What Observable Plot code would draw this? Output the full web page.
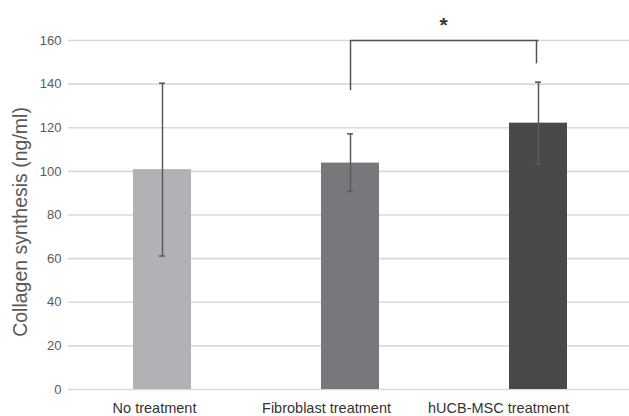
<!DOCTYPE html>
<html>
<head>
<meta charset="utf-8">
<script src="https://cdn.jsdelivr.net/npm/d3@7"></script>
<script src="https://cdn.jsdelivr.net/npm/@observablehq/plot@0.6"></script>
<style>
  html, body { margin: 0; padding: 0; background: #fff; }
  #chart { width: 629px; height: 416px; }
</style>
</head>
<body>
<div id="chart"></div>
<script>
// Data
const categories = ["No treatment", "Fibroblast treatment", "hUCB-MSC treatment"];
const means = [100.8, 103.8, 122.1];
const errLow = [61.2, 90.8, 103.3];
const errHigh = [140.4, 117.2, 140.9];
const barColors = ["#b1b2b6", "#77787c", "#48494b"];
const yTicks = [0, 20, 40, 60, 80, 100, 120, 140, 160];
// Significance bracket: between categories 2 and 3
const bracketFrom = "Fibroblast treatment";
const bracketTo = "hUCB-MSC treatment";
const bracketTop = 160;
const bracketLeftEnd = 137;
const bracketRightEnd = 149.3;
const sigLabel = "*";
const yTitle = "Collagen synthesis (ng/ml)";

const data = categories.map((c, i) => ({
  category: c, mean: means[i], lo: errLow[i], hi: errHigh[i], color: barColors[i]
}));

const labelShift = [-8, -24, -40];

const font = "Liberation Sans, Arial, Helvetica, sans-serif";

const chart = Plot.plot({
  width: 629,
  height: 416,
  marginTop: 40,
  marginBottom: 27,
  marginLeft: 68,
  marginRight: 0,
  style: { fontFamily: font, background: "#fff", overflow: "visible" },
  x: { domain: categories, range: [68, 632], paddingInner: 0.69, paddingOuter: 0.345, axis: null },
  y: { domain: [0, 160], axis: null },
  marks: [
    Plot.ruleY(yTicks, { stroke: "#d9d9d9", strokeWidth: 1.6 }),
    Plot.text(yTicks, { y: d => d, text: d => String(d), frameAnchor: "left", dx: -7, textAnchor: "end", fontSize: 13, fill: "#595959" }),
    Plot.barY(data, { x: "category", y: "mean", fill: d => d.color }),
    Plot.ruleX(data, { x: "category", y1: "lo", y2: "hi", stroke: "#5a5a5a", strokeWidth: 1.5 }),
    Plot.tickY(data, { x: "category", y: "lo", stroke: "#5a5a5a", strokeWidth: 1.5, inset: 26 }),
    Plot.tickY(data, { x: "category", y: "hi", stroke: "#5a5a5a", strokeWidth: 1.5, inset: 26 }),
    // bracket
    Plot.ruleX([bracketFrom], { x: d => d, y1: bracketLeftEnd, y2: bracketTop, stroke: "#555", strokeWidth: 1.5 }),
    Plot.ruleX([bracketTo], { x: d => d, y1: bracketRightEnd, y2: bracketTop, stroke: "#555", strokeWidth: 1.5, dx: -2 }),
    Plot.link([{}], { x1: () => bracketFrom, x2: () => bracketTo, y1: () => bracketTop, y2: () => bracketTop, stroke: "#555", strokeWidth: 1.5 }),
    Plot.text([sigLabel], { x: () => bracketFrom, y: () => bracketTop, text: d => d, dx: 93, dy: -15, fontSize: 21, fontWeight: "bold", fill: "#333" }),
    // x labels
    ...categories.map((c, i) => Plot.text([c], { x: d => d, y: () => 0, text: d => d, dy: 19, dx: labelShift[i], fontSize: 14.5, fill: "#333" })),
    // y axis title
    Plot.text([yTitle], { y: () => 76.8, text: d => d, frameAnchor: "left", textAnchor: "middle", dx: -48, rotate: -90, fontSize: 19.5, fill: "#595959" })
  ]
});
document.getElementById("chart").appendChild(chart);
</script>
</body>
</html>
